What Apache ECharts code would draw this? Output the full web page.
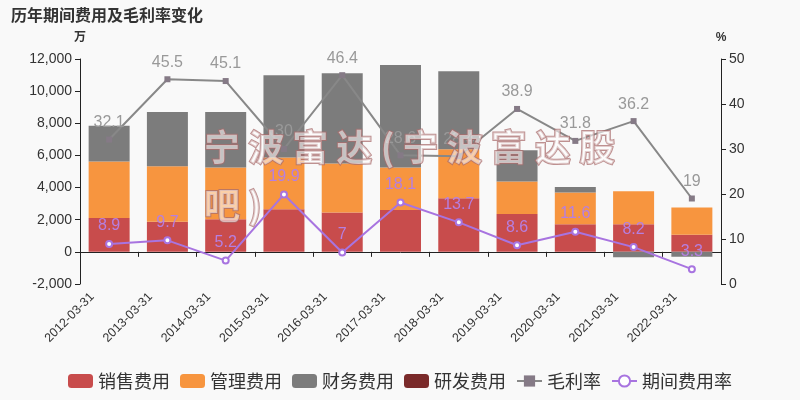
<!DOCTYPE html>
<html>
<head>
<meta charset="utf-8">
<script src="https://cdn.jsdelivr.net/npm/echarts@6/dist/echarts.min.js"></script>
<style>html,body{margin:0;padding:0;background:#f9f9f9;}#c{width:800px;height:400px;}</style>
</head>
<body>
<div id="c"></div>
<script>
var categories = ['2012-03-31','2013-03-31','2014-03-31','2015-03-31','2016-03-31','2017-03-31','2018-03-31','2019-03-31','2020-03-31','2021-03-31','2022-03-31'];
var salesExp = [2100, 1870, 2030, 2650, 2450, 2600, 3340, 2350, 1720, 1720, 1060];
var adminExp = [3525, 3460, 3220, 3220, 3050, 2650, 3050, 2030, 1970, 2050, 1700];
var financeExp = [2215, 3380, 3460, 5120, 5620, 6370, 4850, 1950, 350, -330, -310];
var rdExp = [0, 0, 0, 0, 0, 0, 0, 0, 0, 0, 0];
var grossMargin = [32.1, 45.5, 45.1, 30.0, 46.4, 28.6, 28.4, 38.9, 31.8, 36.2, 19];
var periodExpRate = [8.9, 9.7, 5.2, 19.9, 7, 18.1, 13.7, 8.6, 11.6, 8.2, 3.3];
var leftTicks = {min: -2000, max: 12000, interval: 2000};
var rightTicks = {min: 0, max: 50, interval: 10};

var chart = echarts.init(document.getElementById('c'));
var textColor = '#333';
var latin = "'Liberation Sans', 'Noto Sans CJK SC', sans-serif";
chart.setOption({
  backgroundColor: '#f9f9f9',
  animation: false,
  textStyle: {fontFamily: latin},
  title: {text: '历年期间费用及毛利率变化', left: 6, top: 2, textStyle: {fontSize: 16, fontWeight: 'bold', color: '#333', fontFamily: "'Noto Sans CJK SC', sans-serif"}},
  legend: {
    bottom: 5, left: 'center', itemWidth: 25, itemHeight: 14, itemGap: 10,
    textStyle: {fontSize: 18, color: '#333', fontFamily: "'Noto Sans CJK SC', sans-serif"},
    data: ['销售费用','管理费用','财务费用','研发费用','毛利率','期间费用率']
  },
  grid: {left: 80, right: 79, top: 59, bottom: 116},
  xAxis: {
    type: 'category', data: categories,
    axisLine: {onZero: true, lineStyle: {color: '#222'}},
    axisTick: {show: true, alignWithLabel: false, lineStyle: {color: '#222'}},
    axisLabel: {rotate: 45, fontSize: 12.5, color: textColor, interval: 0, fontFamily: latin, margin: -6, padding: [0, 24, 0, 0]}
  },
  yAxis: [
    {type: 'value', name: '万', nameGap: 15, min: leftTicks.min, max: leftTicks.max, interval: leftTicks.interval,
     nameTextStyle: {fontWeight: 'bold', color: '#333', fontSize: 12},
     axisLine: {show: true, lineStyle: {color: '#222'}}, axisTick: {show: true},
     splitLine: {show: false}, axisLabel: {fontSize: 14, color: textColor, fontFamily: latin}},
    {type: 'value', name: '%', nameGap: 15, min: rightTicks.min, max: rightTicks.max, interval: rightTicks.interval,
     nameTextStyle: {fontWeight: 'bold', color: '#333', fontSize: 12},
     axisLine: {show: true, lineStyle: {color: '#222'}}, axisTick: {show: true},
     splitLine: {show: false}, axisLabel: {fontSize: 14, color: textColor, fontFamily: latin}}
  ],
  series: [
    {name: '销售费用', type: 'bar', stack: 'exp', data: salesExp, barWidth: 41, itemStyle: {color: '#c84c4c'}},
    {name: '管理费用', type: 'bar', stack: 'exp', data: adminExp, barWidth: 41, itemStyle: {color: '#f7953f'}},
    {name: '财务费用', type: 'bar', stack: 'exp', data: financeExp, barWidth: 41, itemStyle: {color: '#7c7c7c'}},
    {name: '研发费用', type: 'bar', stack: 'exp', data: rdExp, barWidth: 41, itemStyle: {color: '#7a2a2a'}},
    {name: '毛利率', type: 'line', yAxisIndex: 1, data: grossMargin, symbol: 'rect', symbolSize: 6,
     itemStyle: {color: '#857a86'}, lineStyle: {color: '#888', width: 2},
     label: {show: true, position: 'top', fontSize: 16, color: '#999', distance: 6, fontFamily: latin}, z: 5},
    {name: '期间费用率', type: 'line', yAxisIndex: 1, data: periodExpRate, symbol: 'emptyCircle', symbolSize: 6,
     itemStyle: {color: '#a874e0', borderColor: '#a874e0'}, lineStyle: {color: '#a874e0', width: 2},
     label: {show: true, position: 'top', fontSize: 16, color: '#b67fe0', distance: 6, fontFamily: latin}, z: 6}
  ],
  graphic: [
    {type: 'text', left: 203, top: 128, z: 100, silent: true,
     style: {text: '宁 波 富 达 ( 宁 波 富 达 股', fontSize: 36, fontWeight: 'bold', fontFamily: 'Noto Sans CJK SC',
       fill: 'rgba(255,255,255,0.55)', stroke: 'rgba(170,110,110,0.75)', lineWidth: 2,
       shadowColor: 'rgba(120,80,80,0.4)', shadowBlur: 2, shadowOffsetX: 2, shadowOffsetY: 2}},
    {type: 'text', left: 203, top: 186, z: 100, silent: true,
     style: {text: '吧 )', fontSize: 36, fontWeight: 'bold', fontFamily: 'Noto Sans CJK SC',
       fill: 'rgba(255,255,255,0.55)', stroke: 'rgba(170,110,110,0.75)', lineWidth: 2,
       shadowColor: 'rgba(120,80,80,0.4)', shadowBlur: 2, shadowOffsetX: 2, shadowOffsetY: 2}}
  ]
});
</script>
</body>
</html>
